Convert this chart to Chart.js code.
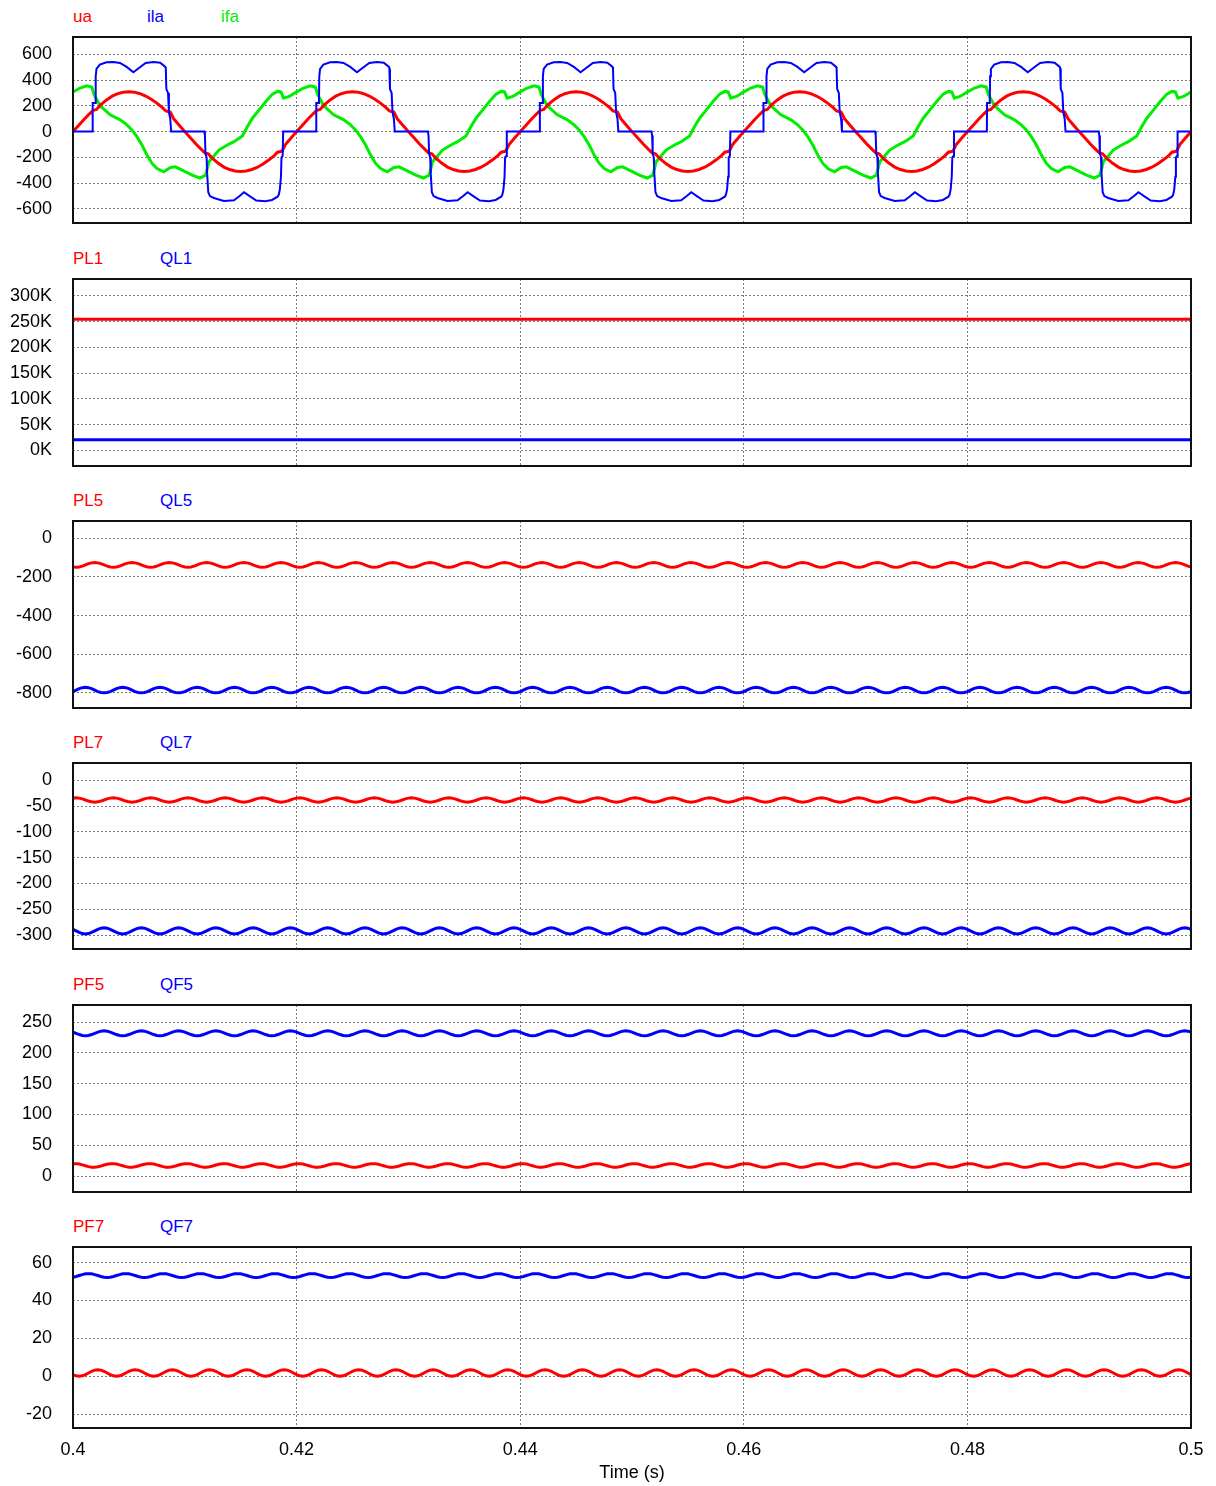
<!DOCTYPE html>
<html lang="en">
  <head>
    <meta charset="UTF-8" />
    <title>Load and filter waveforms</title>
    <script src="https://cdn.jsdelivr.net/npm/chart.js"></script>
    <style>
      body {
        margin: 0;
        background: #fff;
        font-family: 'Liberation Sans', Arial, sans-serif;
        overflow: hidden;
      }
      #wrap {
        position: relative;
        width: 1216px;
        height: 1486px;
      }
      .panel {
        position: absolute;
        left: 0;
      }
      .name {
        position: absolute;
        font-size: 17px;
        line-height: 18px;
        white-space: nowrap;
      }
    </style>
  </head>
  <body>
    <div id="wrap"></div>

    <script>
      // one 20 ms cycle of the top panel, time in ms from the cycle start
      const uaT = [0, 0.5, 1, 1.5, 1.8, 2.1, 2.5, 3, 3.5, 4, 4.5, 5, 5.5, 6, 6.5, 7, 7.5, 8, 8.3, 8.7, 9, 9.5,
                   10, 10.5, 11, 11.5, 11.8, 12.1, 12.5, 13, 13.5, 14, 14.5, 15, 15.5, 16, 16.5, 17, 17.5, 18, 18.3, 18.7, 19, 19.5];
      const uaV = [0, 48, 96, 140, 165, 172, 210, 246, 275, 294, 306, 310, 306, 294, 276, 251, 221, 186, 160, 152, 100, 50,
                   0, -48, -96, -140, -165, -172, -210, -246, -275, -294, -306, -310, -306, -294, -276, -251, -221, -186, -160, -152, -100, -50];

      const ilaT = [0, 1.74, 1.76, 2.0, 2.03, 2.1, 2.4, 3.0, 3.6, 4.2, 4.8, 5.4, 5.9, 6.5, 7.2, 7.8, 8.26, 8.3, 8.35, 8.5, 8.58, 8.7, 8.78,
                    11.75, 11.8, 11.85, 11.95, 12.0, 12.1, 12.25, 12.6, 13.5, 14.4, 14.9, 15.3, 15.8, 16.4, 17.2, 17.8, 18.3, 18.4, 18.5, 18.6, 18.65, 18.75, 18.8];
      const ilaV = [0, 0, 221, 221, 429, 486, 520, 538, 540, 533, 502, 460, 494, 533, 540, 535, 502, 490, 330, 300, 150, 100, 0,
                    0, -30, -170, -200, -330, -470, -500, -515, -538, -532, -500, -470, -500, -535, -540, -530, -505, -490, -450, -350, -200, -190, 0];

      const ifaT = [0, 0.63, 1.23, 1.68, 1.89, 2.13, 2.43, 3.32, 4.22, 4.82, 5.27, 5.72, 6.17, 6.62, 7.07, 7.51, 8.11, 8.71, 9.16, 9.76,
                    10.66, 11.35, 11.86, 12.16, 13.05, 13.8, 14.4, 15.15, 15.6, 16.05, 16.65, 17.25, 17.84, 18.3, 18.6, 18.83, 19.34];
      const ifaV = [308, 338, 356, 346, 286, 247, 200, 130, 91, 52, 13, -39, -104, -182, -247, -286, -312, -278, -273, -299,
                    -338, -360, -338, -234, -143, -104, -78, -34, 39, 104, 169, 234, 291, 312, 309, 260, 273];

      // flat power levels
      const pl1 = [255000, 255000];
      const ql1 = [20600, 20600];

      // one 300 Hz ripple cycle (12 samples) for each filtered quantity
      const pl5Cycle = [-148, -149.5, -148, -144, -137.5, -131, -127, -125.5, -127, -131, -137.5, -144];
      const ql5Cycle = [-793, -785, -777, -772.5, -771, -772.5, -777, -785, -793, -797.5, -799, -797.5];
      const pl7Cycle = [-34.6, -34, -34.6, -36.1, -38.2, -40.3, -41.8, -42.4, -41.8, -40.3, -38.2, -36.1];
      const ql7Cycle = [-289, -292, -295, -297.2, -298, -297.2, -295, -292, -289, -286.8, -286, -286.8];
      const pf5Cycle = [20.1, 20.2, 19.5, 18.2, 16.7, 15.3, 14.5, 14.4, 15.1, 16.4, 17.9, 19.3];
      const qf5Cycle = [234, 232, 230, 228.5, 228, 228.5, 230, 232, 234, 235.5, 236, 235.5];
      const pf7Cycle = [0.8, 0.2, -0.05, 0.2, 0.8, 1.7, 2.6, 3.2, 3.45, 3.2, 2.6, 1.7];
      const qf7Cycle = [52.3, 52.7, 53.2, 53.7, 54.1, 54.2, 54.1, 53.7, 53.2, 52.7, 52.3, 52.2];

      // tick labels
      const xTicks = [0.4, 0.42, 0.44, 0.46, 0.48, 0.5];
      const ticks1 = [-600, -400, -200, 0, 200, 400, 600];
      const ticks2 = [0, 50000, 100000, 150000, 200000, 250000, 300000];
      const ticks3 = [-800, -600, -400, -200, 0];
      const ticks4 = [-300, -250, -200, -150, -100, -50, 0];
      const ticks5 = [0, 50, 100, 150, 200, 250];
      const ticks6 = [-20, 0, 20, 40, 60];

      const RED = '#ff0000', BLUE = '#0000ff', GREEN = '#00ee00';

      function tile(ts, vs, periodMs, count) {
        const pts = [];
        for (let p = 0; p < count; p++) {
          ts.forEach((t, i) => pts.push({ x: 0.4 + (p * periodMs + t) / 1000, y: vs[i] }));
        }
        pts.push({ x: 0.5, y: vs[0] });
        return pts;
      }

      function ripple(cycle) {
        const step = (20 / 6) / cycle.length;
        return tile(cycle.map((v, k) => k * step), cycle, 20 / 6, 30);
      }

      function flat(vals) {
        return [{ x: 0.4, y: vals[0] }, { x: 0.5, y: vals[1] }];
      }

      const panels = [
        { top: 37, h: 186, min: -709, max: 734, ticks: ticks1, fmt: v => v,
          names: [['ua', RED, 73], ['ila', BLUE, 147], ['ifa', GREEN, 221]],
          series: [
            { data: tile(ilaT, ilaV, 20, 5), color: BLUE, w: 2 },
            { data: tile(uaT, uaV, 20, 5), color: RED, w: 3 },
            { data: tile(ifaT, ifaV, 20, 5), color: GREEN, w: 3 }
          ] },
        { top: 279, h: 187, min: -30500, max: 333000, ticks: ticks2, fmt: v => (v / 1000) + 'K',
          names: [['PL1', RED, 73], ['QL1', BLUE, 160]],
          series: [{ data: flat(pl1), color: RED, w: 3 }, { data: flat(ql1), color: BLUE, w: 3 }] },
        { top: 521, h: 187, min: -877.7, max: 89.6, ticks: ticks3, fmt: v => v,
          names: [['PL5', RED, 73], ['QL5', BLUE, 160]],
          series: [{ data: ripple(pl5Cycle), color: RED, w: 3 }, { data: ripple(ql5Cycle), color: BLUE, w: 3 }] },
        { top: 763, h: 186, min: -327.1, max: 33.5, ticks: ticks4, fmt: v => v,
          names: [['PL7', RED, 73], ['QL7', BLUE, 160]],
          series: [{ data: ripple(pl7Cycle), color: RED, w: 3 }, { data: ripple(ql7Cycle), color: BLUE, w: 3 }] },
        { top: 1005, h: 187, min: -25.9, max: 278, ticks: ticks5, fmt: v => v,
          names: [['PF5', RED, 73], ['QF5', BLUE, 160]],
          series: [{ data: ripple(pf5Cycle), color: RED, w: 3 }, { data: ripple(qf5Cycle), color: BLUE, w: 3 }] },
        { top: 1247, h: 181, min: -27.4, max: 68.3, ticks: ticks6, fmt: v => v,
          names: [['PF7', RED, 73], ['QF7', BLUE, 160]],
          series: [{ data: ripple(pf7Cycle), color: RED, w: 3 }, { data: ripple(qf7Cycle), color: BLUE, w: 3 }] }
      ];

      Chart.defaults.font.family = "'Liberation Sans', Arial, sans-serif";
      Chart.defaults.font.size = 18;
      Chart.defaults.color = '#000';

      const framePlugin = {
        id: 'frame',
        afterDraw(chart) {
          const { ctx, chartArea: a } = chart;
          ctx.save();
          ctx.strokeStyle = '#111';
          ctx.lineWidth = 2;
          ctx.strokeRect(a.left, a.top, a.right - a.left, a.bottom - a.top);
          ctx.restore();
        }
      };

      const wrap = document.getElementById('wrap');

      panels.forEach((p, i) => {
        const last = i === panels.length - 1;
        const axisH = last ? 60 : 0;
        const height = 10 + p.h + (last ? axisH : 10);

        p.names.forEach(([text, color, x]) => {
          const d = document.createElement('div');
          d.className = 'name';
          d.textContent = text;
          d.style.color = color;
          d.style.left = x + 'px';
          d.style.top = (p.top - 21 - 8) + 'px';
          wrap.appendChild(d);
        });

        const canvas = document.createElement('canvas');
        canvas.className = 'panel';
        canvas.width = 1216;
        canvas.height = height;
        canvas.style.top = (p.top - 10) + 'px';
        wrap.appendChild(canvas);

        new Chart(canvas, {
          type: 'line',
          data: {
            datasets: p.series.map(s => ({
              data: s.data,
              borderColor: s.color,
              borderWidth: s.w,
              pointRadius: 0,
              tension: 0,
              fill: false
            }))
          },
          options: {
            responsive: false,
            animation: false,
            events: [],
            layout: { padding: { top: 10, bottom: last ? 0 : 10, left: 0, right: 25 } },
            plugins: { legend: { display: false }, tooltip: { enabled: false } },
            scales: {
              x: {
                type: 'linear',
                min: 0.4,
                max: 0.5,
                afterBuildTicks: s => { s.ticks = xTicks.map(v => ({ value: v })); },
                afterFit: s => {
                  s.height = axisH;
                  s.paddingLeft = 0;
                  s.paddingRight = 0;
                },
                grid: { color: '#7a7a7a', lineWidth: 1, drawTicks: false },
                border: { display: false, dash: [2, 2] },
                ticks: { display: last, padding: 11, maxRotation: 0, callback: v => String(+v.toFixed(2)) },
                title: { display: last, text: 'Time (s)', padding: { top: 2, bottom: 4 } }
              },
              y: {
                min: p.min,
                max: p.max,
                afterBuildTicks: s => { s.ticks = p.ticks.map(v => ({ value: v })); },
                afterFit: s => {
                  s.width = 73;
                  s.paddingTop = 0;
                  s.paddingBottom = 0;
                },
                grid: { color: '#7a7a7a', lineWidth: 1, drawTicks: false },
                border: { display: false, dash: [2, 2] },
                ticks: { padding: 21, callback: p.fmt }
              }
            }
          },
          plugins: [framePlugin]
        });
      });
    </script>
  </body>
</html>
